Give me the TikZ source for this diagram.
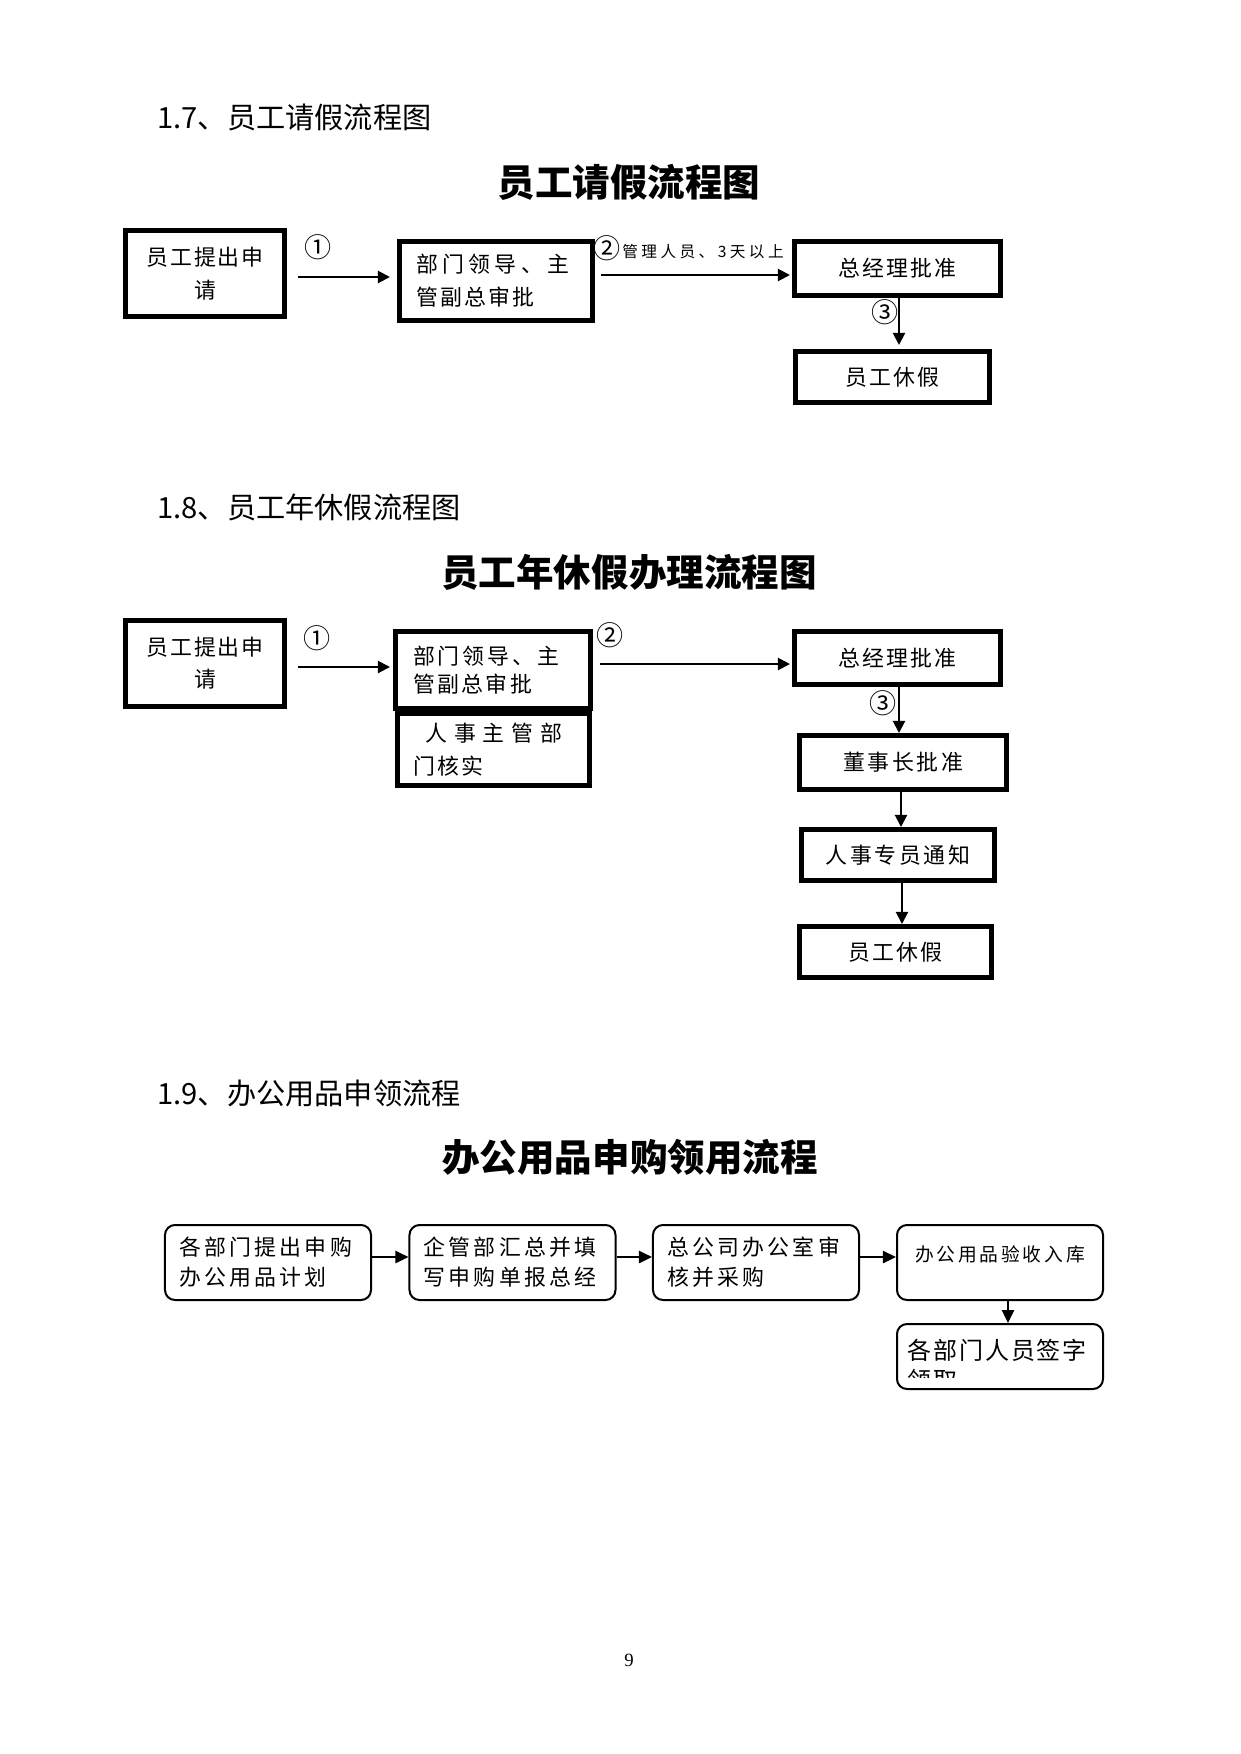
\documentclass[tikz,border=0pt]{standalone}
\usepackage{fontspec}
\setmainfont{Noto Sans CJK SC}
\newfontfamily\serifnum{Liberation Serif}
\usetikzlibrary{arrows.meta}
\newcommand\fsz[2]{\fontsize{#1}{#2}\selectfont}
\newcommand\myls[2]{{\addfontfeature{LetterSpace=#1}#2}}
\begin{document}
\begin{tikzpicture}[x=0.47968pt,y=-0.47968pt,
  head/.style={font=\fsz{14}{16}, inner sep=0pt, anchor=west},
  titletext/.style={font=\fsz{18}{20}\bfseries, inner sep=0pt},
  tbox/.style={draw, line width=2.21pt, inner sep=0pt, font=\fsz{10.5}{15.8}},
  rbox/.style={draw, line width=0.96pt, rounded corners=4.8pt, inner sep=0pt,
    minimum width=98.82pt, minimum height=35.98pt, font=\fsz{10.5}{14.4}},
  circ/.style={font=\fsz{13}{14}, inner sep=0pt},
  arr/.style={-{Triangle[length=5.76pt,width=5.76pt]}, line width=0.96pt},
  arrthree/.style={-{Triangle[length=6.24pt,width=5.76pt]}, line width=1.15pt}]
\fill[white] (0,0) rectangle (1241,1754);
\useasboundingbox (0,0) rectangle (1241,1754);

% ---------------- Section 1.7 ----------------
\node[head] (h1) at (157,117) {1.7、员工请假流程图};
\node[titletext] (ti1) at (629,182) {员工请假流程图};

\node[tbox, minimum width=76.46pt, minimum height=41.45pt, align=center] (s1a) at (205,273.5)
  {\myls{8}{员工提出申}\\\myls{8}{请}};
\node[tbox, minimum width=92.77pt, minimum height=38.09pt, text width=76.75pt, align=left] (s1b) at (496,281)
  {\myls{20}{部门领导、主}\\\myls{10}{管副总审批}};
\node[tbox, minimum width=99.01pt, minimum height=26.10pt] (s1c) at (897.5,268.5) {\myls{10}{总经理批准}};
\node[tbox, minimum width=93.25pt, minimum height=24.66pt] (s1d) at (892.5,377) {\myls{10}{员工休假}};

\node[circ] (c1) at (318,247) {①};
\node[circ] (c2) at (607,248) {②};
\node[circ] (c3) at (885,312) {③};
\node[font=\fsz{7.5}{9}, inner sep=0pt, anchor=west] (lb2) at (622,252) {\myls{22}{管理人员、3天以上}};

\draw[arr, shorten <=5.28pt, shorten >=3.36pt] (s1a.east |- 0,277) -- (s1b.west |- 0,277);
\draw[arr, shorten <=2.88pt, shorten >=0.96pt] (s1b.east |- 0,275) -- (s1c.west |- 0,275);
\draw[arr, shorten >=1.92pt] (s1c.south -| 899,0) -- (s1d.north -| 899,0);

% ---------------- Section 1.8 ----------------
\node[head] (h2) at (157,507) {1.8、员工年休假流程图};
\node[titletext] (ti2) at (629,572) {员工年休假办理流程图};

\node[tbox, minimum width=76.46pt, minimum height=41.45pt, align=center, font=\fsz{10.5}{15.3}] (s2a) at (205,663.5)
  {\myls{8}{员工提出申}\\\myls{8}{请}};
\node[tbox, minimum width=93.73pt, minimum height=37.13pt, text width=76.75pt, align=left, font=\fsz{10.5}{13.4}] (s2b) at (493,670)
  {\myls{14}{部门领导、主}\\\myls{11}{管副总审批}};
\node[tbox, minimum width=92.29pt, minimum height=34.73pt, text width=76.75pt, align=left] (s2c) at (493.5,749.5)
  {\hspace*{5.76pt}\myls{31}{人事主管部}\\\myls{10}{门核实}};
\node[tbox, minimum width=99.01pt, minimum height=25.62pt] (s2d) at (897.5,658) {\myls{10}{总经理批准}};
\node[tbox, minimum width=99.49pt, minimum height=26.10pt] (s2e) at (903,762.5) {\myls{12}{董事长批准}};
\node[tbox, minimum width=92.77pt, minimum height=24.66pt] (s2f) at (898,855) {\myls{12}{人事专员通知}};
\node[tbox, minimum width=92.29pt, minimum height=24.66pt] (s2g) at (895.5,952) {\myls{10}{员工休假}};

\node[circ] (c1b) at (317,638) {①};
\node[circ] (c2b) at (610,635) {②};
\node[circ] (c3b) at (883,703) {③};

\draw[arr, shorten <=5.28pt, shorten >=1.44pt] (s2a.east |- 0,667) -- (s2b.west |- 0,667);
\draw[arr, shorten <=3.36pt, shorten >=0.96pt] (s2b.east |- 0,664) -- (s2d.west |- 0,664);
\draw[arr] (s2d.south -| 899,0) -- (s2e.north -| 899,0);
\draw[arr] (s2e.south -| 901,0) -- (s2f.north -| 901,0);
\draw[arr] (s2f.south -| 902,0) -- (s2g.north -| 902,0);

% ---------------- Section 1.9 ----------------
\node[head] (h3) at (157,1093) {1.9、办公用品申领流程};
\node[titletext] (ti3) at (630,1157) {办公用品申购领用流程};

\node[rbox, text width=85.38pt, align=left] (p1) at (268,1262.5)
  {\myls{15}{各部门提出申购}\\\myls{15}{办公用品计划}};
\node[rbox, text width=85.38pt, align=left] (p2) at (512.5,1262.5)
  {\myls{15}{企管部汇总并填}\\\myls{15}{写申购单报总经}};
\node[rbox, text width=85.38pt, align=left] (p3) at (756,1262.5)
  {\myls{15}{总公司办公室审}\\\myls{15}{核并采购}};
\node[rbox, font=\fsz{9}{11}, text depth=8.3pt] (p4) at (1000,1262.5) {\myls{15}{办公用品验收入库}};
\node[rbox, minimum height=31.18pt] (p5) at (1000,1356.5) {};
\begin{scope}
  \clip (899,1325) rectangle (1101,1377);
  \node[inner sep=0pt, text width=88.74pt, align=left, font=\fsz{11.5}{14.4}] (t5) at (1000,1365)
    {\myls{8}{各部门人员签字}\\\myls{8}{领取}};
\end{scope}

\draw[arrthree] (p1.east |- 0,1257) -- (p2.west |- 0,1257);
\draw[arrthree] (p2.east |- 0,1257) -- (p3.west |- 0,1257);
\draw[arrthree] (p3.east |- 0,1257) -- (p4.west |- 0,1257);
\draw[arrthree] (p4.south -| 1008,0) -- (p5.north -| 1008,0);

\node[font=\serifnum\fsz{9}{10}, inner sep=0pt] (pn) at (629,1660) {9};
\end{tikzpicture}
\end{document}
